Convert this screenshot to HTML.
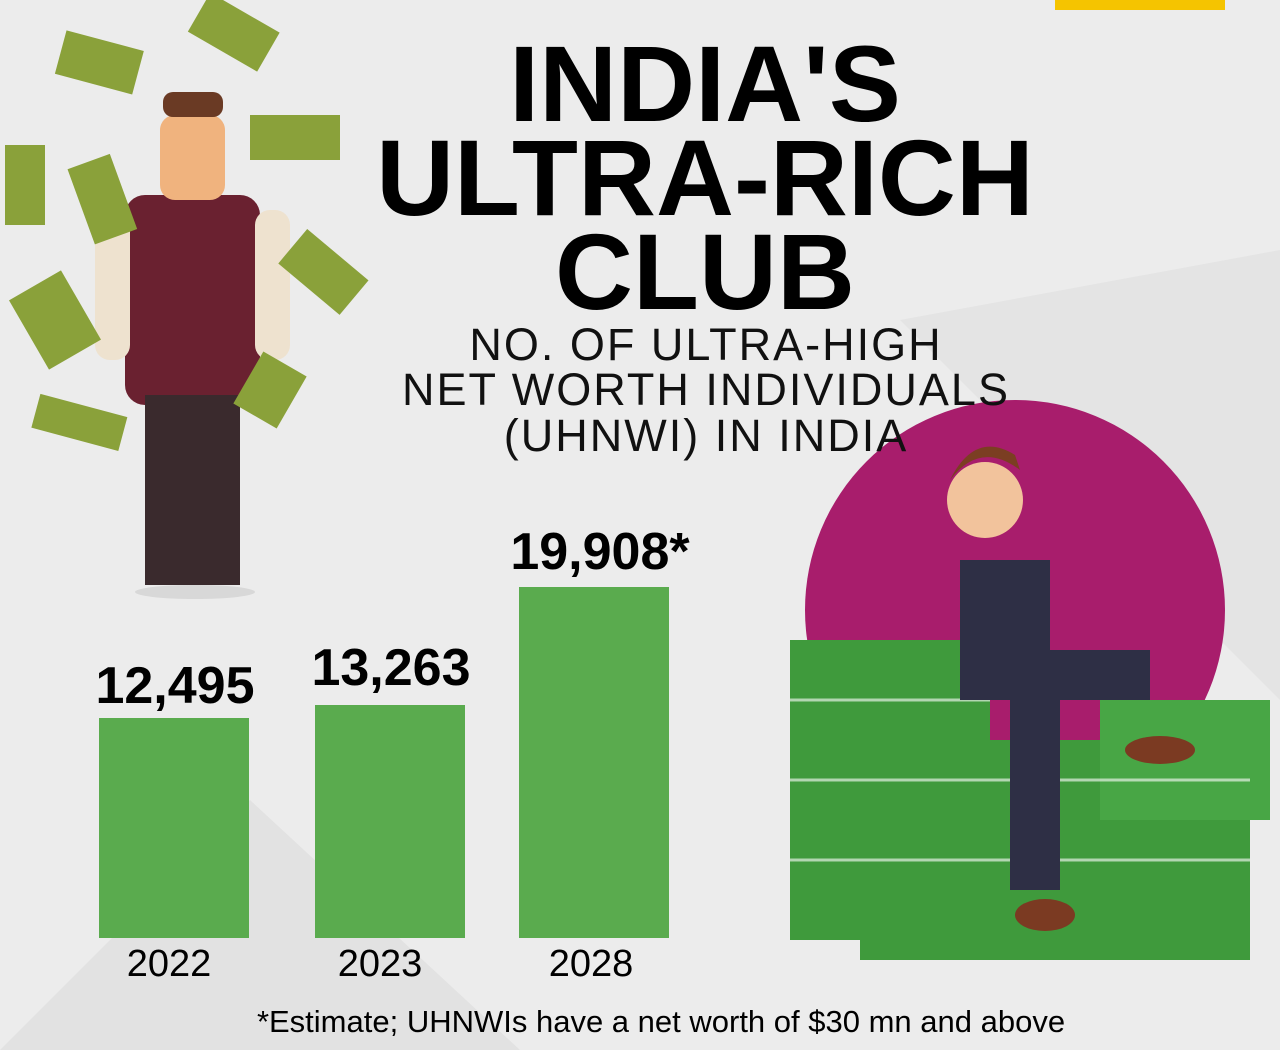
<!DOCTYPE html>
<html><head><meta charset="utf-8"><style>
body{margin:0;width:1280px;height:1050px;overflow:hidden;background:#ececec;font-family:"Liberation Sans",sans-serif;position:relative}
.a{position:absolute}
.t{position:absolute;left:0;width:1410px;text-align:center;font-weight:900;color:#000;letter-spacing:0px;line-height:1}
.s{position:absolute;left:0;width:1412px;text-align:center;font-size:45px;color:#111;line-height:1;letter-spacing:2px}
.bar{position:absolute;background:#5aab4e;width:150px;bottom:112px}
.v{position:absolute;font-weight:bold;font-size:52px;width:240px;text-align:center}
.y{position:absolute;font-size:38px;width:200px;text-align:center;top:943px}
</style></head><body>
<svg class="a" style="left:0;top:0" width="1280" height="1050">
<polygon points="0,1050 250,800 520,1050" fill="#e2e2e2"/>
<polygon points="900,320 1280,250 1280,700" fill="#e4e4e4"/>
<rect x="1055" y="0" width="170" height="10" fill="#f5c400"/>
<circle cx="1015" cy="610" r="210" fill="#a81d6c"/>
<rect x="790" y="640" width="200" height="300" fill="#3f9a3c"/>
<rect x="860" y="740" width="390" height="220" fill="#3f9a3c"/>
<rect x="1100" y="700" width="170" height="120" fill="#48a645"/>
<g stroke="#fff" stroke-width="3" opacity=".6"><line x1="790" y1="700" x2="990" y2="700"/><line x1="790" y1="780" x2="1250" y2="780"/><line x1="790" y1="860" x2="1250" y2="860"/></g>
<rect x="960" y="560" width="90" height="140" fill="#2e2f45"/>
<circle cx="985" cy="500" r="38" fill="#f2c39c"/>
<path d="M950 480 q30 -40 70 -10 l-5 -15 q-40 -25 -65 25z" fill="#7b3e22"/>
<rect x="990" y="650" width="160" height="50" fill="#2e2f45"/>
<rect x="1010" y="690" width="50" height="200" fill="#2e2f45"/>
<ellipse cx="1160" cy="750" rx="35" ry="14" fill="#7b3a22"/>
<ellipse cx="1045" cy="915" rx="30" ry="16" fill="#7b3a22"/>
<rect x="125" y="195" width="135" height="210" rx="20" fill="#6a2130"/>
<rect x="95" y="210" width="35" height="150" rx="15" fill="#eee2cf"/>
<rect x="255" y="210" width="35" height="150" rx="15" fill="#eee2cf"/>
<rect x="145" y="395" width="95" height="190" fill="#3a2a2d"/>
<rect x="160" y="115" width="65" height="85" rx="15" fill="#f0b37e"/>
<rect x="163" y="92" width="60" height="25" rx="10" fill="#6a3a24"/>
<ellipse cx="195" cy="592" rx="60" ry="7" fill="#d8d8d8"/>
<g fill="#8aa13a"><rect x="60" y="40" width="80" height="45" transform="rotate(15 100 60)"/><rect x="195" y="10" width="80" height="45" transform="rotate(30 235 30)"/><rect x="250" y="115" width="90" height="45"/><rect x="5" y="145" width="40" height="80"/><rect x="80" y="160" width="45" height="80" transform="rotate(-20 100 200)"/><rect x="285" y="250" width="80" height="45" transform="rotate(40 325 270)"/><rect x="25" y="280" width="60" height="80" transform="rotate(-30 55 320)"/><rect x="35" y="405" width="90" height="35" transform="rotate(15 80 420)"/><rect x="245" y="360" width="50" height="60" transform="rotate(30 270 390)"/></g>
</svg>
<div class="t" style="top:30px;font-size:108px">INDIA'S</div>
<div class="t" style="top:124px;font-size:108px">ULTRA-RICH</div>
<div class="t" style="top:218px;font-size:108px">CLUB</div>
<div class="s" style="top:322px">NO. OF ULTRA-HIGH</div>
<div class="s" style="top:367px">NET WORTH INDIVIDUALS</div>
<div class="s" style="top:413px">(UHNWI) IN INDIA</div>
<div class="bar" style="left:99px;height:220px"></div>
<div class="bar" style="left:315px;height:233px"></div>
<div class="bar" style="left:519px;height:351px"></div>
<div class="v" style="left:55px;top:656px">12,495</div>
<div class="v" style="left:271px;top:638px">13,263</div>
<div class="v" style="left:480px;top:522px">19,908*</div>
<div class="y" style="left:69px">2022</div>
<div class="y" style="left:280px">2023</div>
<div class="y" style="left:491px">2028</div>
<div class="a" style="left:0;width:1322px;text-align:center;top:1004px;font-size:31px">*Estimate; UHNWIs have a net worth of $30 mn and above</div>
</body></html>
